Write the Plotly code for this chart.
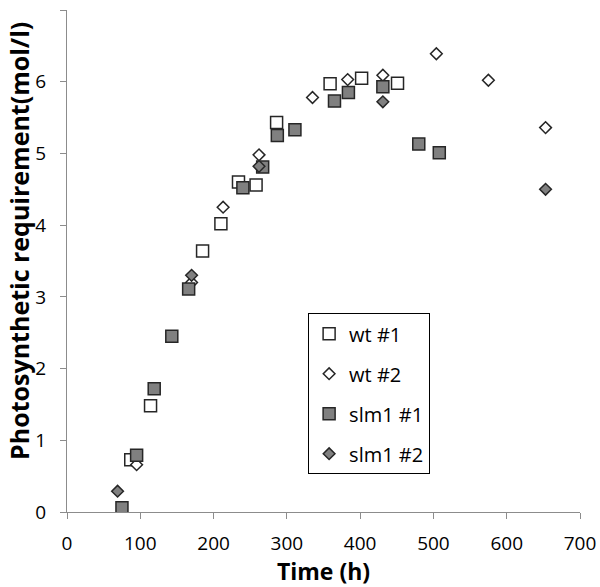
import plotly.graph_objects as go

# wt #1 (open squares)
wt1_x = [87, 114, 185, 210, 234, 258, 286, 359, 402, 451]
wt1_y = [0.73, 1.48, 3.64, 4.02, 4.60, 4.56, 5.43, 5.97, 6.05, 5.98]

# wt #2 (open diamonds)
wt2_x = [95, 170, 213, 262, 335, 383, 431, 504, 575, 653]
wt2_y = [0.66, 3.20, 4.25, 4.98, 5.78, 6.03, 6.09, 6.39, 6.02, 5.36]

# slm1 #1 (grey squares)
slm1_1_x = [75, 95, 119, 143, 166, 240, 267, 287, 311, 365, 384, 431, 480, 508]
slm1_1_y = [0.06, 0.79, 1.72, 2.45, 3.11, 4.52, 4.81, 5.25, 5.33, 5.73, 5.85, 5.93, 5.13, 5.01]

# slm1 #2 (grey diamonds)
slm1_2_x = [69, 170, 262, 431, 653]
slm1_2_y = [0.29, 3.30, 4.82, 5.72, 4.50]

x_ticks = [0, 100, 200, 300, 400, 500, 600, 700]
y_ticks = [0, 1, 2, 3, 4, 5, 6, 7]

FONT = "'Open Sans', sans-serif"
GREY = "#808080"
EDGE = "#262626"

series = [
    ("wt #1", wt1_x, wt1_y, "square", "white", 12),
    ("wt #2", wt2_x, wt2_y, "diamond", "white", 9),
    ("slm1 #1", slm1_1_x, slm1_1_y, "square", GREY, 12),
    ("slm1 #2", slm1_2_x, slm1_2_y, "diamond", GREY, 9),
]

fig = go.Figure()
for i, (name, xs, ys, sym, fill, size) in enumerate(series):
    fig.add_trace(go.Scatter(
        x=xs, y=ys, mode="markers", name=name, legendgroup=f"g{i}",
        marker=dict(symbol=sym, size=size, color=fill,
                    line=dict(color=EDGE, width=1.5)),
    ))

axis_common = dict(
    showgrid=False, zeroline=False, showline=True, linecolor="#8c8c8c", linewidth=1,
    ticks="outside", ticklen=6, tickcolor="#8c8c8c", tickwidth=1,
    tickfont=dict(family=FONT, size=19, color="#000000"),
    automargin=False,
)

fig.update_layout(
    width=600, height=587,
    margin=dict(l=67, r=20, t=10, b=75),
    paper_bgcolor="white", plot_bgcolor="white",
    font=dict(family=FONT, color="#000000"),
    xaxis=dict(range=[0, 700], tickvals=x_ticks,
               title=dict(text="<b>Time (h)</b>", font=dict(family=FONT, size=23), standoff=3),
               ticklabelstandoff=8, **axis_common),
    yaxis=dict(range=[0, 7], tickvals=y_ticks, ticklabelstandoff=10, **axis_common),
    annotations=[dict(
        text="<b>Photosynthetic requirement(mol/l)</b>", textangle=-90,
        xref="paper", yref="paper", x=-0.1306, y=0.54,
        xanchor="left", yanchor="middle", showarrow=False,
        font=dict(family=FONT, size=25, color="#000000"),
    )],
    showlegend=True,
    legend=dict(x=0.47, y=0.396, xanchor="left", yanchor="top",
                bordercolor="#000000", borderwidth=1, bgcolor="white",
                font=dict(family=FONT, size=20, color="#000000"),
                traceorder="grouped", tracegroupgap=11),
)

fig.write_html("out.html", config={"displayModeBar": False},
               post_script="document.body.style.margin='0';")
